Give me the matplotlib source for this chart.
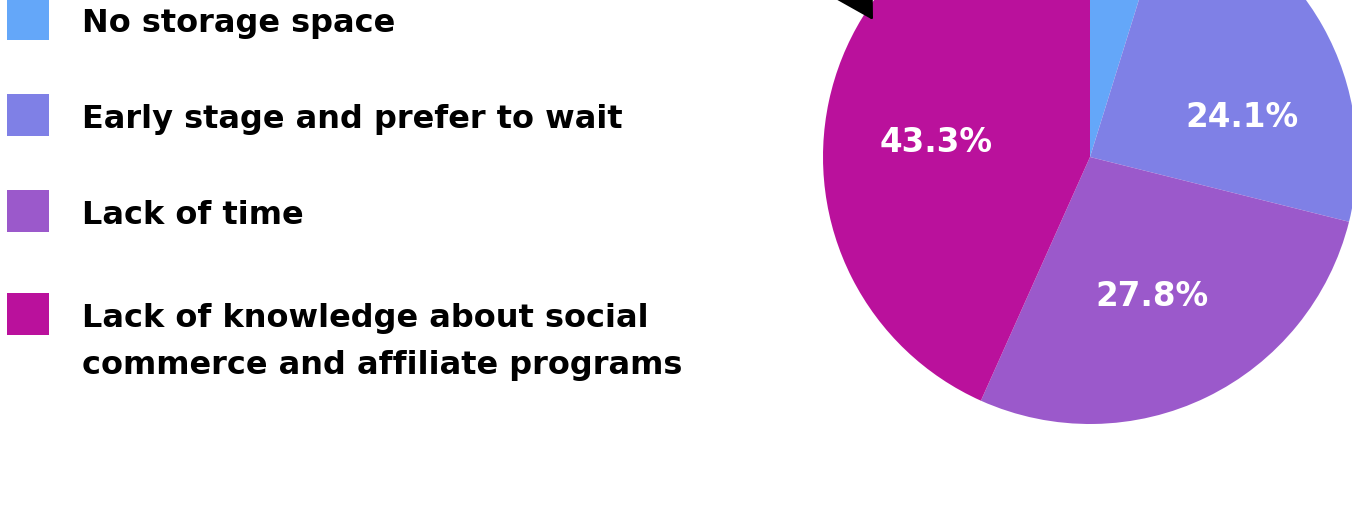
import numpy as np
import matplotlib.pyplot as plt
from matplotlib.patches import Rectangle

labels = ["No storage space",
          "Early stage and prefer to wait",
          "Lack of time",
          "Lack of knowledge about social\ncommerce and affiliate programs"]
shares = [4.8, 24.1, 27.8, 43.3]
colors = ["#64A7F9", "#7F80E6", "#9B59CB", "#BA119C"]

# layout (pixels, y from top)
W, H = 1352, 505
cx, cy, r = 1090, 157, 267
legend_y = [19, 115, 211, 314]
label_pos = [None, (14.7, 157), (-66, 153), (174.8, 155)]  # angle, distance

plt.rcParams['font.family'] = ['DejaVu Sans']

fig = plt.figure(figsize=(W / 100, H / 100), dpi=100)
ax = fig.add_axes([0, 0, 1, 1])

wedges, _ = ax.pie(shares, colors=colors, startangle=90, counterclock=False,
                   center=(cx, H - cy), radius=r,
                   wedgeprops=dict(linewidth=0))
ax.set_xlim(0, W)
ax.set_ylim(0, H)
ax.axis('off')

for v, pos in zip(shares, label_pos):
    if pos is None:
        continue
    a, d = pos
    x = cx + d * np.cos(np.radians(a))
    y = H - cy + d * np.sin(np.radians(a))
    ax.text(x, y, f"{v}%", color="white", fontsize=23.5, fontweight="bold",
            ha="center", va="center")

# arrow pointing from the (cropped) outside label
ax.annotate("", xy=(873, H - 20), xytext=(790, H + 120),
            arrowprops=dict(arrowstyle="-|>,head_length=0.9,head_width=0.52",
                            color="black", lw=2, mutation_scale=50,
                            shrinkA=0, shrinkB=0),
            annotation_clip=False)

for lab, c, y in zip(labels, colors, legend_y):
    ax.add_patch(Rectangle((7, H - y - 21), 42, 42, color=c, lw=0))
    for i, line in enumerate(lab.split("\n")):
        ax.text(82, H - y - 13 - 47 * i, line, fontsize=23, fontweight="bold",
                color="black", ha="left", va="baseline")

fig.savefig("out.png", dpi=100)
